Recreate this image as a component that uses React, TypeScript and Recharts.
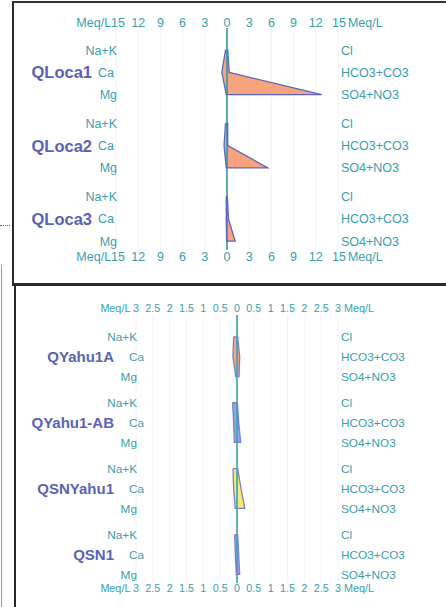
import React from "react";
import {
  ComposedChart,
  Area,
  Scatter,
  XAxis,
  YAxis,
  CartesianGrid,
  ReferenceLine,
} from "recharts";

const CATIONS = ["Na+K", "Ca", "Mg"];
const ANIONS = ["Cl", "HCO3+CO3", "SO4+NO3"];

// upper panel (Meq/L, 15 scale)
const topSamples = ["QLoca1", "QLoca2", "QLoca3"];
const topNaK = [0.2, 0.2, 0.1];
const topCa = [0.7, 0.4, 0.1];
const topMg = [0.1, 0.1, 0.05];
const topCl = [0.1, 0.1, 0.05];
const topHCO3 = [0.3, 0.1, 0.2];
const topSO4 = [12.8, 5.5, 1.1];
const topRows = [0, 1, 2, 3.3, 4.3, 5.3, 6.6, 7.6, 8.6];
const topTicks = [-15, -12, -9, -6, -3, 0, 3, 6, 9, 12, 15];
const topColors = ["#f7a47e", "#f7a47e", "#f7a47e"];

// lower panel (Meq/L, 3 scale)
const lowSamples = ["QYahu1A", "QYahu1-AB", "QSNYahu1", "QSN1"];
const lowNaK = [0.1, 0.13, 0.12, 0.07];
const lowCa = [0.12, 0.1, 0.1, 0.05];
const lowMg = [0.04, 0.08, 0.05, 0.02];
const lowCl = [0.02, 0.01, 0.02, 0.02];
const lowHCO3 = [0.08, 0.05, 0.12, 0.05];
const lowSO4 = [0.06, 0.11, 0.23, 0.08];
const lowRows = [0, 1, 2, 3.32, 4.32, 5.32, 6.64, 7.64, 8.64, 9.96, 10.96, 11.96];
const lowTicks = [-3, -2.5, -2, -1.5, -1, -0.5, 0, 0.5, 1, 1.5, 2, 2.5, 3];
const lowColors = ["#f5a683", "#94a7ea", "#f8e874", "#b9a3e4"];

const FONT = "'Liberation Sans', Arial, sans-serif";
const TEAL = "#3a9eae";
const NAME = "#5963b6";

function buildRows(rows: number[], cat: number[][], an: number[][], n: number) {
  return rows.map((pos, i) => {
    const s = Math.floor(i / 3);
    const j = i % 3;
    const row: any = { pos };
    for (let k = 0; k < n; k++) row["s" + k] = k === s ? [-cat[j][s], an[j][s]] : null;
    return row;
  });
}

function buildOutline(rows: number[], cat: number[][], an: number[][], s: number) {
  const p = rows.slice(s * 3, s * 3 + 3);
  return [
    { v: -cat[0][s], pos: p[0] },
    { v: -cat[1][s], pos: p[1] },
    { v: -cat[2][s], pos: p[2] },
    { v: an[2][s], pos: p[2] },
    { v: an[1][s], pos: p[1] },
    { v: an[0][s], pos: p[0] },
    { v: -cat[0][s], pos: p[0] },
  ];
}

const fmt = (v: number) => String(Math.abs(v));

function Panel(props: any) {
  const { samples, rows, cat, an, ticks, colors, cfg } = props;
  const data = buildRows(rows, cat, an, samples.length);
  const xDom = [ticks[0], ticks[ticks.length - 1]];

  const xTick = (side: string) => (p: any) => {
    const v = p.payload.value;
    const by = side === "top" ? p.y : p.y + cfg.tickFont * 0.72;
    const common = { fill: TEAL, fontSize: cfg.tickFont, fontFamily: FONT };
    if (v === xDom[0]) {
      return (
        <text x={p.x + cfg.leftEdge} y={by} textAnchor="end" {...common}>
          {"Meq/L" + cfg.unitGap + fmt(v)}
        </text>
      );
    }
    if (v === xDom[1]) {
      return (
        <text x={p.x + cfg.rightEdge} y={by} textAnchor="start" {...common}>
          {fmt(v)}
          <tspan dx={cfg.rightGap}>Meq/L</tspan>
        </text>
      );
    }
    return (
      <text x={p.x} y={by} textAnchor="middle" {...common}>
        {fmt(v)}
      </text>
    );
  };

  const leftTick = (p: any) => {
    const i = rows.indexOf(p.payload.value);
    if (i < 0) return <g />;
    const j = i % 3;
    const s = Math.floor(i / 3);
    return (
      <g>
        {j === 1 ? (
          <>
            <text x={p.x + cfg.caDx} y={p.y} dy="0.36em" textAnchor="start" fill={TEAL} fontSize={cfg.ionFont} fontFamily={FONT}>
              {CATIONS[j]}
            </text>
            <text x={p.x + cfg.nameDx} y={p.y} dy="0.36em" textAnchor="end" fill={NAME} fontSize={cfg.nameFont} fontWeight="bold" fontFamily={FONT}>
              {samples[s]}
            </text>
          </>
        ) : (
          <text x={p.x + 1} y={p.y} dy="0.36em" textAnchor="end" fill={TEAL} fontSize={cfg.ionFont} fontFamily={FONT}>
            {CATIONS[j]}
          </text>
        )}
      </g>
    );
  };

  const rightTick = (p: any) => {
    const i = rows.indexOf(p.payload.value);
    if (i < 0) return <g />;
    return (
      <text x={p.x + 3} y={p.y} dy="0.36em" textAnchor="start" fill={TEAL} fontSize={cfg.ionFont} fontFamily={FONT}>
        {ANIONS[i % 3]}
      </text>
    );
  };

  return (
    <div style={{ position: "absolute", left: 0, top: cfg.top, width: 446, height: cfg.height }}>
      <ComposedChart
        width={446}
        height={cfg.height}
        data={data}
        layout="vertical"
        margin={{ top: 0, right: 0, bottom: 0, left: 0 }}
      >
        <CartesianGrid horizontal={false} stroke="#f4f4f4" />
        <XAxis
          type="number"
          domain={xDom}
          ticks={ticks}
          allowDataOverflow
          axisLine={false}
          tickLine={false}
          tickSize={0}
          tickMargin={cfg.bottomMargin}
          height={cfg.bottomH}
          interval={0}
          tick={xTick("bottom")}
        />
        <XAxis
          xAxisId="top"
          orientation="top"
          type="number"
          domain={xDom}
          ticks={ticks}
          allowDataOverflow
          axisLine={false}
          tickLine={false}
          tickSize={0}
          tickMargin={cfg.topMargin}
          height={cfg.topH}
          interval={0}
          tick={xTick("top")}
        />
        <YAxis
          type="number"
          dataKey="pos"
          domain={cfg.yDomain}
          ticks={rows}
          allowDataOverflow
          axisLine={false}
          tickLine={false}
          tickSize={0}
          tickMargin={0}
          width={cfg.leftW}
          interval={0}
          tick={leftTick}
        />
        <YAxis
          yAxisId="r"
          orientation="right"
          type="number"
          dataKey="pos"
          domain={cfg.yDomain}
          ticks={rows}
          allowDataOverflow
          axisLine={false}
          tickLine={false}
          tickSize={0}
          tickMargin={0}
          width={446 - cfg.leftW - cfg.plotW}
          interval={0}
          tick={rightTick}
        />
        <ReferenceLine x={0} stroke={cfg.zeroColor} strokeWidth={1.6} />
        {samples.map((_: string, k: number) => (
          <Area
            key={"a" + k}
            dataKey={"s" + k}
            type="linear"
            fill={colors[k]}
            fillOpacity={1}
            stroke="none"
            isAnimationActive={false}
          />
        ))}
        {samples.map((_: string, k: number) => (
          <Scatter
            key={"o" + k}
            data={buildOutline(rows, cat, an, k)}
            dataKey="v"
            line={{ stroke: cfg.outline, strokeWidth: 1.3 }}
            lineType="joint"
            shape={() => <g />}
            isAnimationActive={false}
          />
        ))}
      </ComposedChart>
    </div>
  );
}

export default function App() {
  return (
    <div style={{ position: "absolute", left: 0, top: 0, width: 446, height: 607, background: "#fff", overflow: "hidden" }}>
      {/* scanned frame lines */}
      <div style={{ position: "absolute", left: 12, top: 1, width: 434, height: 2, background: "#333" }} />
      <div style={{ position: "absolute", left: 12, top: 1, width: 2, height: 284, background: "#2a2a2a" }} />
      <div style={{ position: "absolute", left: 12, top: 283, width: 434, height: 3, background: "#2a2a2a" }} />
      <div style={{ position: "absolute", left: 14, top: 284, width: 2, height: 323, background: "#2a2a2a" }} />
      <div style={{ position: "absolute", left: 1, top: 265, width: 1, height: 342, background: "#9a9a9a" }} />
      <div style={{ position: "absolute", left: 0, top: 225, width: 10, height: 0, borderTop: "1px dotted #c0392b" }} />

      <Panel
        samples={topSamples}
        rows={topRows}
        cat={[topNaK, topCa, topMg]}
        an={[topCl, topHCO3, topSO4]}
        ticks={topTicks}
        colors={topColors}
        cfg={{
          top: 0,
          height: 285,
          topH: 28,
          bottomH: 35,
          topMargin: 1.5,
          bottomMargin: 1.5,
          leftW: 116,
          plotW: 222,
          yDomain: [-1, 9],
          tickFont: 12.5,
          ionFont: 12.5,
          nameFont: 16.5,
          caDx: -18,
          nameDx: -24,
          leftEdge: 9,
          unitGap: "",
          rightEdge: -6,
          rightGap: 2,
          zeroColor: "#2f96aa",
          outline: "#5a66c0",
        }}
      />
      <Panel
        samples={lowSamples}
        rows={lowRows}
        cat={[lowNaK, lowCa, lowMg]}
        an={[lowCl, lowHCO3, lowSO4]}
        ticks={lowTicks}
        colors={lowColors}
        cfg={{
          top: 285,
          height: 322,
          topH: 30,
          bottomH: 24,
          topMargin: 3,
          bottomMargin: 1.4,
          leftW: 136,
          plotW: 202,
          yDomain: [-1.1, 12.4],
          tickFont: 10.8,
          ionFont: 11.8,
          nameFont: 15,
          caDx: -7,
          nameDx: -22,
          leftEdge: 3,
          unitGap: " ",
          rightEdge: -3,
          rightGap: 3,
          zeroColor: "#3aa0b0",
          outline: "#7482d0",
        }}
      />
    </div>
  );
}
